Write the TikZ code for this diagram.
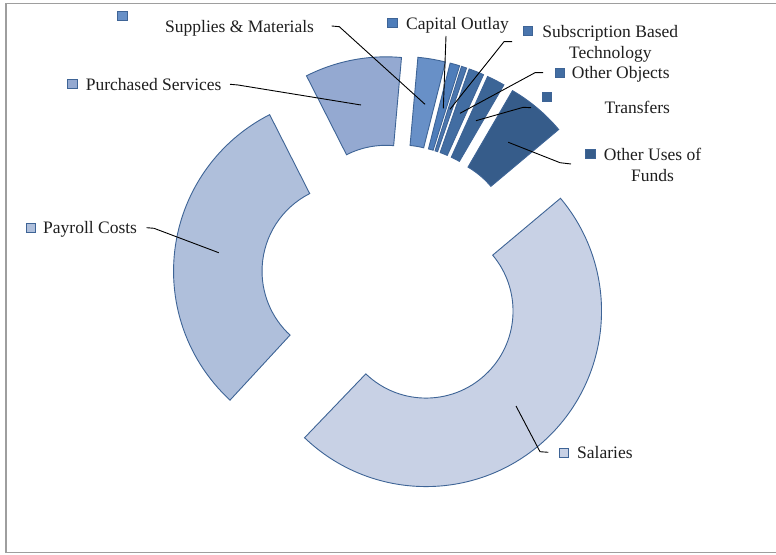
\documentclass[tikz,border=0pt]{standalone}
\usepackage{fontspec}
\setmainfont{Liberation Serif}
\definecolor{cSal}{HTML}{C8D1E5}
\definecolor{cPay}{HTML}{AFBFDB}
\definecolor{cPur}{HTML}{94A9D1}
\definecolor{cSup}{HTML}{6890C7}
\definecolor{cCap}{HTML}{4E7DBA}
\definecolor{cSub}{HTML}{4A75AD}
\definecolor{cOth}{HTML}{426DA2}
\definecolor{cTra}{HTML}{3C6596}
\definecolor{cOus}{HTML}{365C8A}
\definecolor{cEdge}{HTML}{3E6496}
\newcommand\donutseg[3]{%
  \pgfmathsetmacro\segmid{(#1+#2)/2}%
  \begin{scope}[shift={(\segmid:46)}]
    \filldraw[segstyle, fill=#3] (#1:175.5) arc[start angle=#1, end angle=#2, radius=175.5]
      -- (#2:87) arc[start angle=#2, end angle=#1, radius=87] -- cycle;
  \end{scope}}
\begin{document}
\begin{tikzpicture}[x=1pt,y=1pt,
  segstyle/.style={draw=cEdge, line width=0.9pt},
  legsq/.style={draw=cEdge, line width=0.8pt, minimum width=9.5pt, minimum height=9pt, inner sep=0pt},
  lbl/.style={font=\fontsize{17.5}{20.7}\selectfont, text=black!88, inner sep=0pt},
  leader/.style={draw=black, line width=0.9pt},
  framestyle/.style={draw=black!38, line width=1.6pt}]
\useasboundingbox (0,0) rectangle (776,554);
\fill[white] (0,0) rectangle (776,554);
\draw[framestyle] (776,550.5) -- (6,550.5) -- (6,1.5) -- (776,1.5);
% doughnut
\begin{scope}[shift={(394.6,276.5)}]
  \donutseg{40}{-133.8}{cSal}
  \donutseg{227.3}{116.9}{cPay}
  \donutseg{116.9}{84.9}{cPur}
  \donutseg{84.9}{75.8}{cSup}
  \donutseg{75.8}{72.6}{cCap}
  \donutseg{72.6}{70.85}{cSub}
  \donutseg{70.85}{65.8}{cOth}
  \donutseg{65.8}{59.8}{cTra}
  \donutseg{59.8}{40}{cOus}
\end{scope}
% legend squares
\node[legsq, fill=cSup] (sqSup) at (122.3,538.5) {};
\node[legsq, fill=cPur] (sqPur) at (72.5,470) {};
\node[legsq, fill=cPay] (sqPay) at (31,326.5) {};
\node[legsq, fill=cCap] (sqCap) at (392.5,531.2) {};
\node[legsq, fill=cSub] (sqSub) at (528,523.5) {};
\node[legsq, fill=cOth] (sqOth) at (559.7,481.2) {};
\node[legsq, fill=cTra] (sqTra) at (547,457.5) {};
\node[legsq, fill=cOus] (sqOus) at (590.3,399.7) {};
\node[legsq, fill=cSal] (sqSal) at (564,101.2) {};
% labels
\node[lbl, anchor=base west] (tSup) at (165,521.7) {Supplies \& Materials};
\node[lbl, anchor=base west] (tPur) at (85.7,463.3) {Purchased Services};
\node[lbl, anchor=base west] (tPay) at (43,320.7) {Payroll Costs};
\node[lbl, anchor=base west] (tCap) at (406,524.7) {Capital Outlay};
\node[lbl, align=center] (tSub) at (610.3,510.5) {Subscription Based\\Technology};
\node[lbl, anchor=base west] (tOth) at (571.7,475) {Other Objects};
\node[lbl, anchor=base west] (tTra) at (604.3,440) {Transfers};
\node[lbl, align=center] (tOus) at (652.5,388.8) {Other Uses of\\Funds};
\node[lbl, anchor=base west] (tSal) at (577,95) {Salaries};
% leader line points
\coordinate (aSup) at (331.7,528); \coordinate (bSup) at (339.3,527.3); \coordinate (cSupE) at (425,449.7);
\coordinate (aPur) at (230,469.7); \coordinate (bPur) at (238,469); \coordinate (cPurE) at (361,449);
\coordinate (aPay) at (146.7,326.3); \coordinate (bPay) at (154,325.7); \coordinate (cPayE) at (218.7,301.3);
\coordinate (aCap) at (446,518); \coordinate (cCapE) at (443.3,445.7);
\coordinate (aSub) at (512,512.3); \coordinate (bSub) at (504,512.3); \coordinate (cSubE) at (450,444.7);
\coordinate (aOth) at (543,481.3); \coordinate (bOth) at (535,481.3); \coordinate (cOthE) at (460,440.7);
\coordinate (aTra) at (531,446.3); \coordinate (bTra) at (523.3,446.7); \coordinate (cTraE) at (476,433.3);
\coordinate (aOus) at (571,390); \coordinate (bOus) at (560,391.3); \coordinate (cOusE) at (508.3,411.7);
\coordinate (aSal) at (548.3,101.7); \coordinate (bSal) at (540,102.3); \coordinate (cSalE) at (516,148);
\draw[leader] (aSup) -- (bSup) -- (cSupE);
\draw[leader] (aPur) -- (bPur) -- (cPurE);
\draw[leader] (aPay) -- (bPay) -- (cPayE);
\draw[leader] (aCap) -- (cCapE);
\draw[leader] (aSub) -- (bSub) -- (cSubE);
\draw[leader] (aOth) -- (bOth) -- (cOthE);
\draw[leader] (aTra) -- (bTra) -- (cTraE);
\draw[leader] (aOus) -- (bOus) -- (cOusE);
\draw[leader] (aSal) -- (bSal) -- (cSalE);
\end{tikzpicture}
\end{document}
